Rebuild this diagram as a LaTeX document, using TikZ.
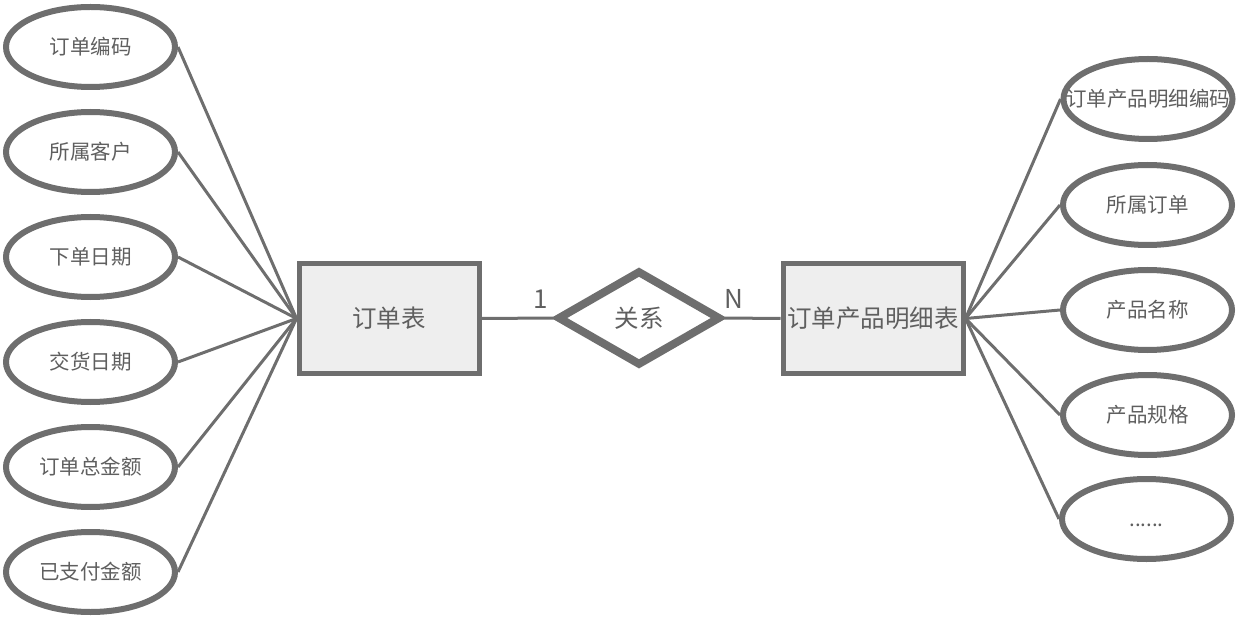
\documentclass[tikz,border=0pt]{standalone}
\usepackage{fontspec}
\newfontfamily\cjk{Noto Sans CJK SC}
\usetikzlibrary{shapes.geometric}
\definecolor{edge}{HTML}{6E6E6E}
\definecolor{txt}{HTML}{5F5F5F}
\definecolor{boxfill}{HTML}{EEEEEE}
\begin{document}
\begin{tikzpicture}[x=1pt,y=-1pt,
  attr/.style={ellipse, draw=edge, line width=6pt, fill=white, minimum width=169pt, minimum height=80pt, inner sep=0pt, font=\cjk\fontsize{20.5}{24}\selectfont, text=txt},
  entity/.style={rectangle, draw=edge, line width=5pt, fill=boxfill, minimum width=180pt, minimum height=109pt, inner sep=0pt, font=\cjk\fontsize{24.5}{28}\selectfont, text=txt},
  rel/.style={diamond, draw=edge, line width=8pt, fill=white, minimum width=163pt, minimum height=95pt, inner sep=0pt, font=\cjk\fontsize{24.5}{28}\selectfont, text=txt},
  conn/.style={draw=edge, line width=3pt},
  card/.style={font=\cjk\fontsize{26}{30}\selectfont, text=txt, inner sep=0pt}
]
\useasboundingbox (0,0) rectangle (1242,636);
% entities
\node[entity] (r1) at (389,318.5) {订单表};
\node[entity] (r2) at (873,318.5) {\makebox[0pt]{订单产品明细表}};
\node[rel] (rel) at (639,318) {关系};
% left attributes
\node[attr] (a1) at (90.5,47) {订单编码};
\node[attr] (a2) at (90.5,152) {所属客户};
\node[attr] (a3) at (90.5,257) {下单日期};
\node[attr] (a4) at (90.5,362) {交货日期};
\node[attr] (a5) at (90.5,467) {订单总金额};
\node[attr] (a6) at (90.5,572) {已支付金额};
% right attributes
\node[attr] (b1) at (1148,99) {\makebox[0pt]{订单产品明细编码}};
\node[attr] (b2) at (1147.5,205) {所属订单};
\node[attr] (b3) at (1147.5,310) {产品名称};
\node[attr] (b4) at (1147.5,415) {产品规格};
\node[attr] (b5) at (1146.5,519) {\raisebox{-7pt}[0pt][0pt]{......}};
% connectors
\foreach \a in {a1,a2,a3,a4,a5,a6} \draw[conn] (\a.east) -- (r1.west);
\foreach \b in {b1,b2,b3,b4,b5} \draw[conn] (r2.east) -- (\b.west);
\draw[conn] (r1.east) -- (rel.west);
\draw[conn] (rel.east) -- (r2.west);
% cardinalities
\node[card] (c1) at (541,299) {1};
\node[card] (cn) at (734,299) {N};
\end{tikzpicture}
\end{document}
